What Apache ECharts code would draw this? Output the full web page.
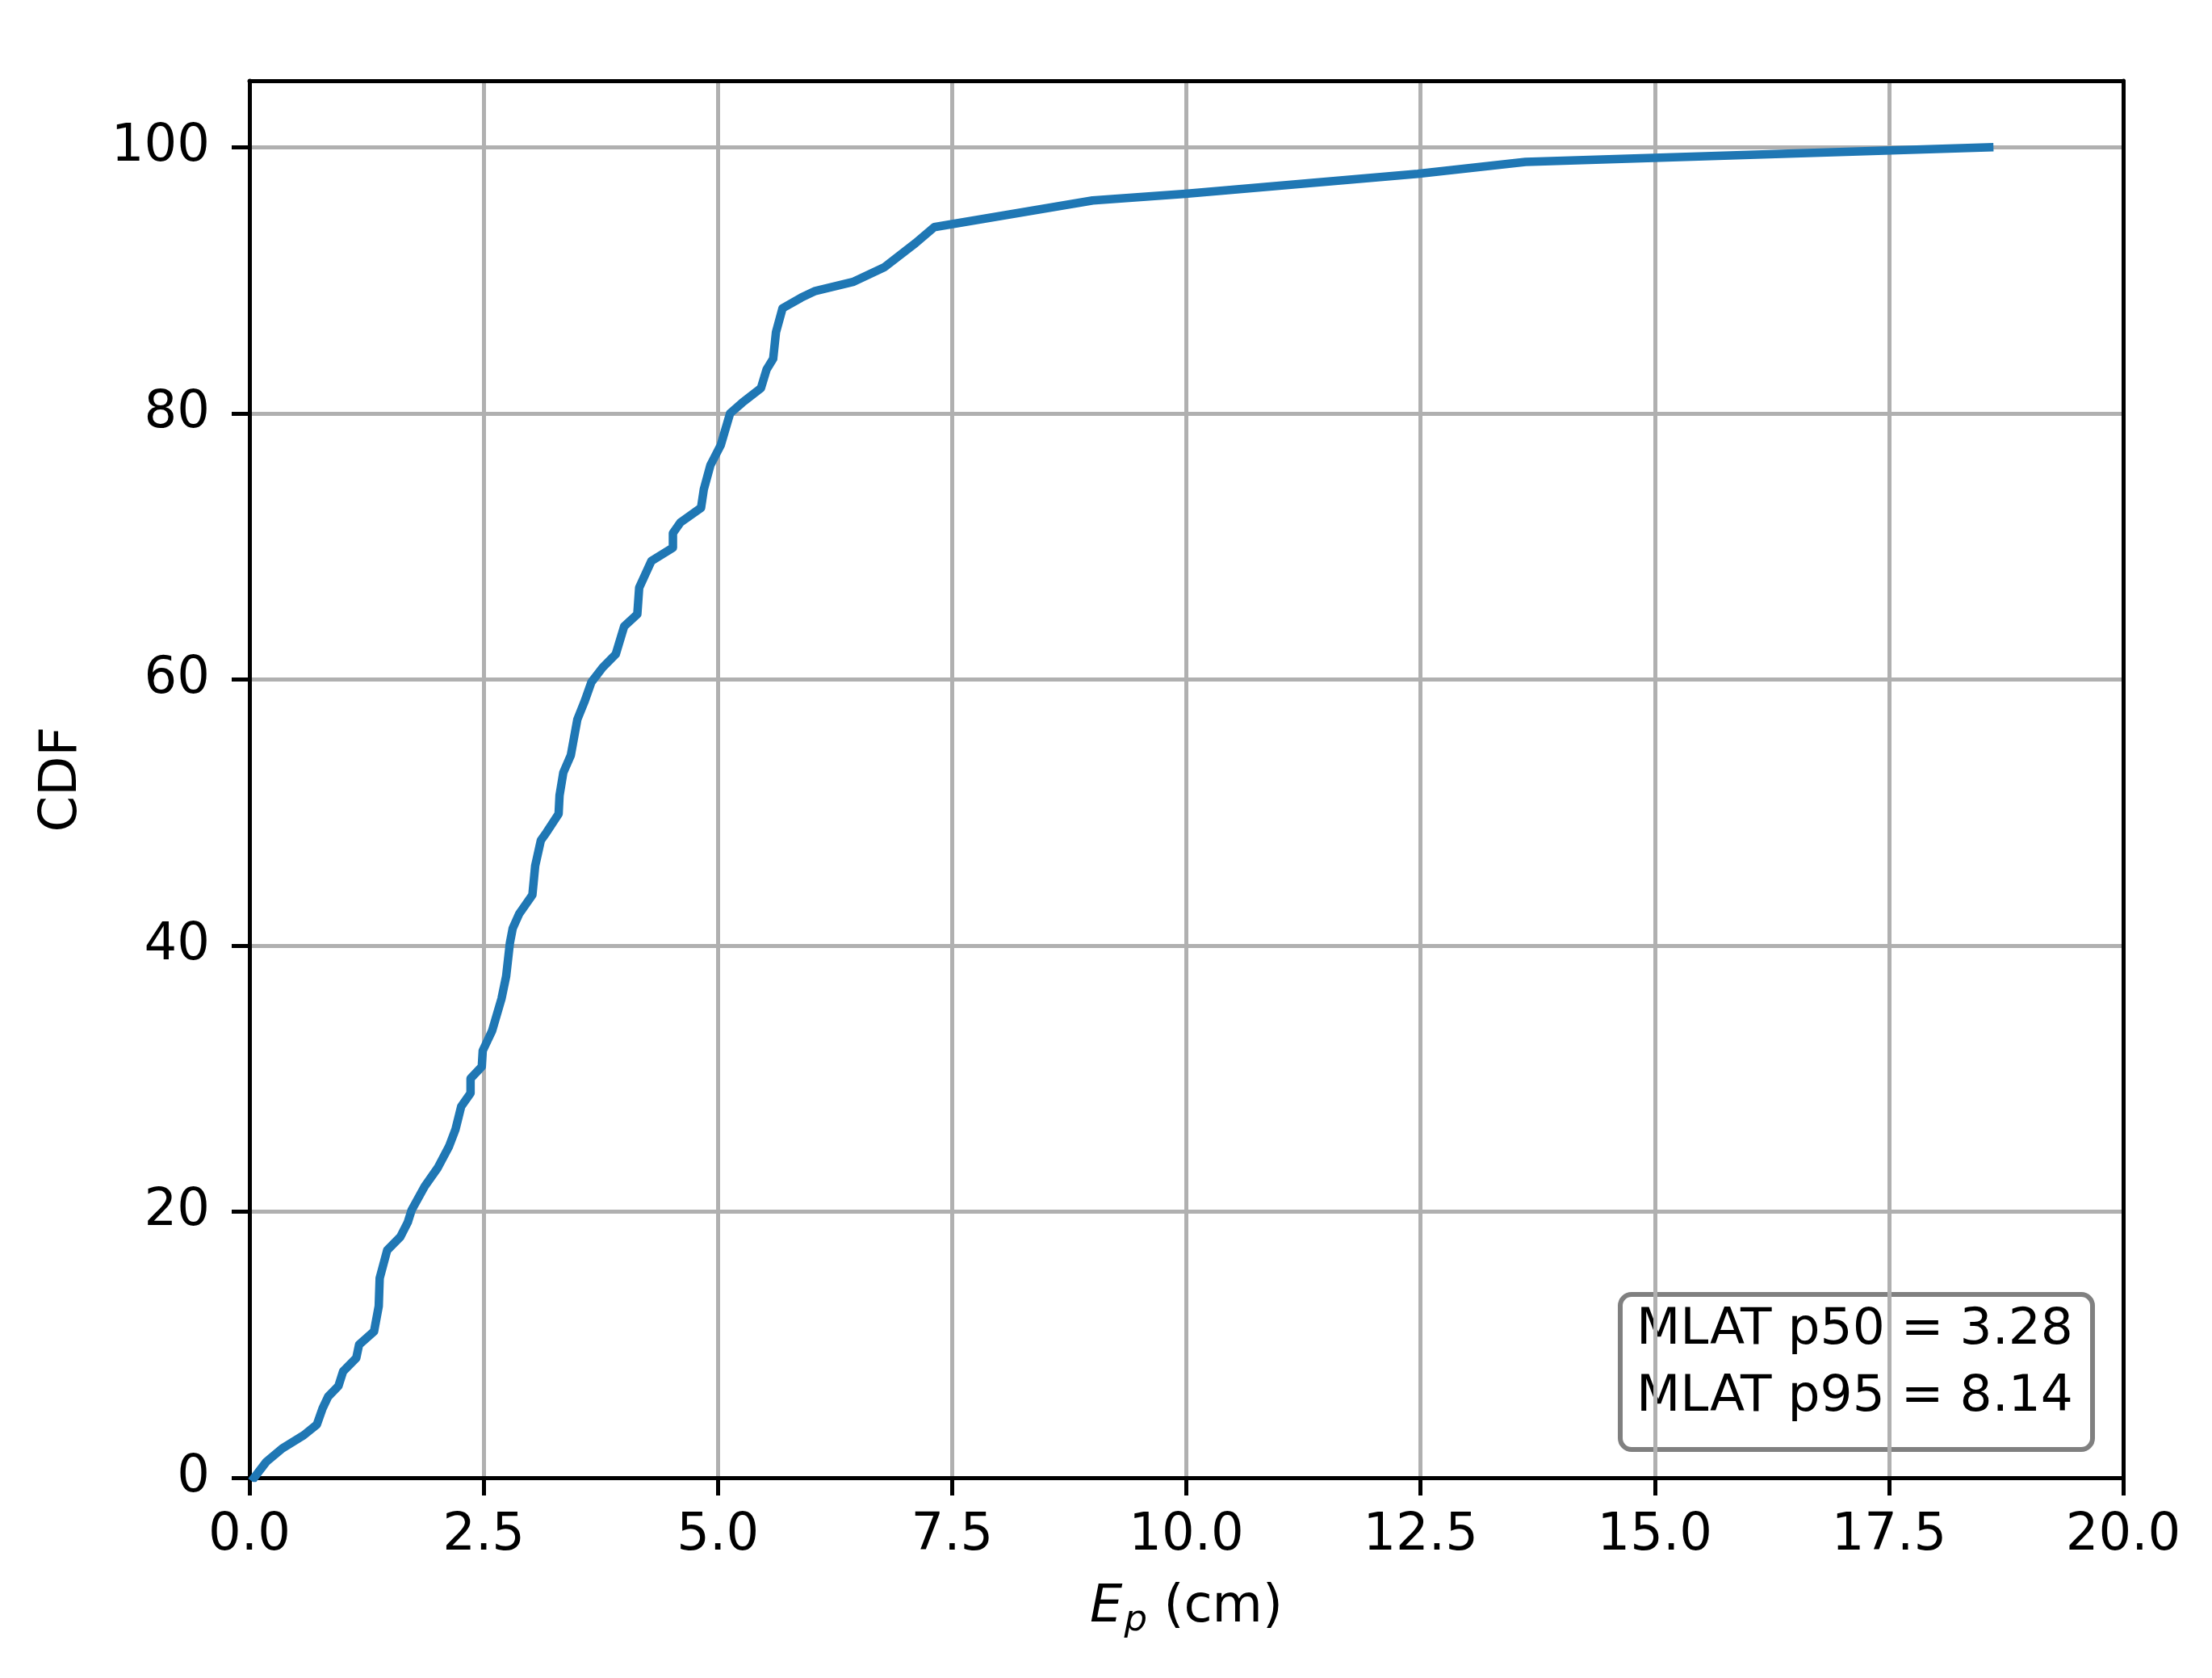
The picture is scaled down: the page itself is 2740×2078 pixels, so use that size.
<!DOCTYPE html>
<html>
<head>
<meta charset="utf-8">
<script src="https://cdn.jsdelivr.net/npm/echarts@6/dist/echarts.min.js"></script>
<style>
html,body{margin:0;padding:0;background:#fff;}
#chart{width:2740px;height:2078px;}
</style>
</head>
<body>
<div id="chart"></div>
<script>
// ---- data ----
const cdfX = [0.05,0.18,0.35,0.58,0.72,0.78,0.84,0.95,1.00,1.14,1.17,1.33,1.38,1.39,1.47,1.61,1.69,1.73,1.87,2.01,2.13,2.20,2.26,2.36,2.36,2.48,2.49,2.59,2.69,2.74,2.78,2.81,2.88,3.02,3.05,3.11,3.17,3.30,3.31,3.35,3.43,3.50,3.58,3.65,3.77,3.91,4.00,4.14,4.16,4.29,4.52,4.52,4.60,4.82,4.85,4.92,5.03,5.13,5.26,5.46,5.52,5.59,5.62,5.69,5.89,6.04,6.45,6.78,7.11,7.31,9.00,9.99,12.47,13.62,18.57];
const cdfY = [0,1.2,2.2,3.2,4.0,5.2,6.1,6.9,8.0,9.0,10.0,11.0,12.9,15.0,17.1,18.1,19.2,20.1,21.9,23.3,24.9,26.2,27.9,28.9,30.0,30.9,32.1,33.6,36.0,37.7,40.2,41.3,42.4,43.8,46.0,47.9,48.5,49.9,51.3,53.0,54.3,57.0,58.4,59.8,60.9,61.9,64.0,64.9,66.9,68.9,69.9,71.0,71.8,72.9,74.3,76.1,77.6,80.0,80.8,81.9,83.3,84.1,86.1,87.9,88.7,89.2,89.9,91.0,92.8,94.0,96.0,96.5,98.0,98.9,100];
const xTicks = [0, 2.5, 5, 7.5, 10, 12.5, 15, 17.5, 20];
const yTicks = [0, 20, 40, 60, 80, 100];
const statLines = ['MLAT p50 = 3.28', 'MLAT p95 = 8.14'];
const xTitle = 'E_p (cm)';
const yTitle = 'CDF';

const FONT = 'DejaVu Sans';
const FS = 64;
const seriesData = cdfX.map((x, i) => [x, cdfY[i]]);

const chart = echarts.init(document.getElementById('chart'), null, {renderer: 'canvas'});
const grid = {left: 309, top: 100, width: 2321, height: 1730};

const option = {
  backgroundColor: '#ffffff',
  animation: false,
  grid: Object.assign({show: false}, grid),
  xAxis: [{
    type: 'value', min: 0, max: 20, interval: 2.5, position: 'bottom',
    axisLine: {show: true, onZero: false, lineStyle: {color: '#000', width: 5}},
    axisTick: {show: true, length: 22, lineStyle: {color: '#000', width: 5}},
    axisLabel: {show: true, margin: 40, color: '#000', fontFamily: FONT, fontSize: FS,
      formatter: v => v.toFixed(1)},
    splitLine: {show: true, lineStyle: {color: '#b0b0b0', width: 5}},
    name: '{e|E}{p|p}{t| (cm)}', nameLocation: 'middle', nameGap: 122,
    nameTextStyle: {
      color: '#000', fontFamily: FONT, fontSize: FS,
      rich: {
        e: {fontFamily: FONT, fontStyle: 'italic', fontSize: FS, color: '#000'},
        p: {fontFamily: FONT, fontStyle: 'italic', fontSize: 45, color: '#000', padding: [33, 0, 0, 2]},
        t: {fontFamily: FONT, fontSize: FS, color: '#000'}
      }
    }
  }, {
    type: 'value', min: 0, max: 20, position: 'top', z: 5,
    axisLine: {show: true, onZero: false, lineStyle: {color: '#000', width: 5}},
    axisTick: {show: false}, axisLabel: {show: false}, splitLine: {show: false}
  }],
  yAxis: [{
    type: 'value', min: 0, max: 105, interval: 20, position: 'left',
    axisLine: {show: true, onZero: false, lineStyle: {color: '#000', width: 5}},
    axisTick: {show: true, length: 22, customValues: yTicks, lineStyle: {color: '#000', width: 5}},
    axisLabel: {show: true, margin: 49, color: '#000', fontFamily: FONT, fontSize: FS,
      customValues: yTicks,
      formatter: v => (v % 20 === 0 ? String(v) : '')},
    splitLine: {show: true, lineStyle: {color: '#b0b0b0', width: 5}},
    name: yTitle, nameLocation: 'middle', nameGap: 200, nameRotate: 90,
    nameTextStyle: {color: '#000', fontFamily: FONT, fontSize: FS}
  }, {
    type: 'value', min: 0, max: 105, position: 'right', z: 5,
    axisLine: {show: true, onZero: false, lineStyle: {color: '#000', width: 5}},
    axisTick: {show: false}, axisLabel: {show: false}, splitLine: {show: false}
  }],
  series: [{
    type: 'line',
    xAxisIndex: 0, yAxisIndex: 0,
    data: seriesData,
    showSymbol: false,
    symbol: 'none',
    smooth: false,
    clip: true,
    z: 3,
    lineStyle: {color: '#1f77b4', width: 10.5, cap: 'square', join: 'round'}
  }],
  graphic: [{
    type: 'group',
    z: 100,
    children: [{
      type: 'rect',
      shape: {x: 2007, y: 1603, width: 585, height: 192, r: 14},
      style: {fill: 'rgba(255,255,255,0.8)', stroke: '#808080', lineWidth: 6}
    }, {
      type: 'text',
      x: 2027, y: 1648,
      style: {text: statLines[0], fill: '#000', font: '63px "' + FONT + '"',
        textAlign: 'left', textVerticalAlign: 'middle'}
    }, {
      type: 'text',
      x: 2027, y: 1731,
      style: {text: statLines[1], fill: '#000', font: '63px "' + FONT + '"',
        textAlign: 'left', textVerticalAlign: 'middle'}
    }]
  }]
};
chart.setOption(option);
</script>
</body>
</html>
